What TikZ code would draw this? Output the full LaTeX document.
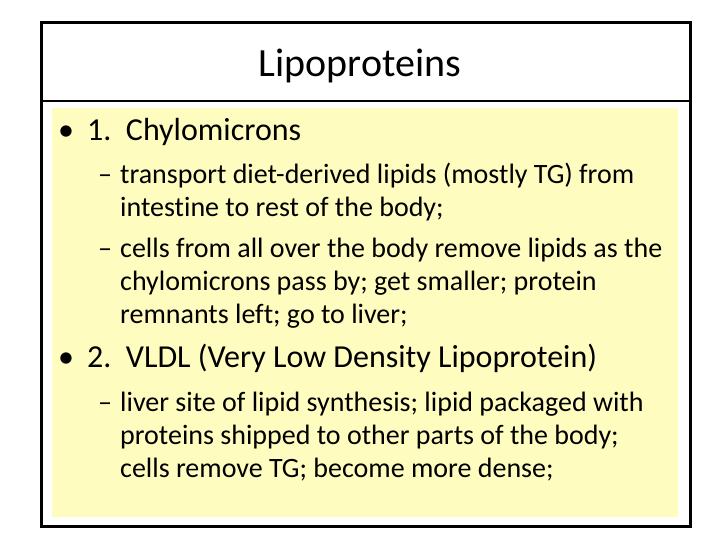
\documentclass[tikz,border=0pt]{standalone}
\usepackage{fontspec}
\setmainfont[Ligatures=NoCommon]{Carlito}
\begin{document}
\begin{tikzpicture}[x=1pt,y=-1pt,
    lvlone/.style={anchor=base west, inner sep=0pt, font=\fontsize{32}{36}\selectfont},
    lvltwo/.style={anchor=base west, inner sep=0pt, font=\fontsize{28}{32}\selectfont}]
        \useasboundingbox (0,0) rectangle (720,540);
        \fill[yellow!25] (52,108) rectangle (678,517);
        \draw[line width=3pt] (41,23) rectangle (690,526);
        \draw[line width=2.5pt] (41,101) -- (690,101);
        \node[anchor=base, inner sep=0pt, font=\fontsize{40}{44}\selectfont] (title) at (360,77) {Lipoproteins};

        \node[lvlone] (b1) at (58,141) {\textbullet};
        \node[lvlone] (t1) at (87,141) {1.\ \ Chylomicrons};
        \node[lvltwo] (d1) at (98,184) {--};
        \node[lvltwo] (s1a) at (120,184) {transport diet-derived lipids (mostly TG) from};
        \node[lvltwo] (s1b) at (120,217) {intestine to rest of the body;};
        \node[lvltwo] (d2) at (98,257) {--};
        \node[lvltwo] (s2a) at (120,257) {cells from all over the body remove lipids as the};
        \node[lvltwo] (s2b) at (120,290) {chylomicrons pass by; get smaller; protein};
        \node[lvltwo] (s2c) at (120,323) {remnants left; go to liver;};

        \node[lvlone] (b2) at (58,367) {\textbullet};
        \node[lvlone] (t2) at (87,367) {2.\ \ VLDL (Very Low Density Lipoprotein)};
        \node[lvltwo] (d3) at (98,411) {--};
        \node[lvltwo] (s3a) at (120,411) {liver site of lipid synthesis; lipid packaged with};
        \node[lvltwo] (s3b) at (120,444) {proteins shipped to other parts of the body;};
        \node[lvltwo] (s3c) at (120,477) {cells remove TG; become more dense;};
    \end{tikzpicture}
\end{document}
